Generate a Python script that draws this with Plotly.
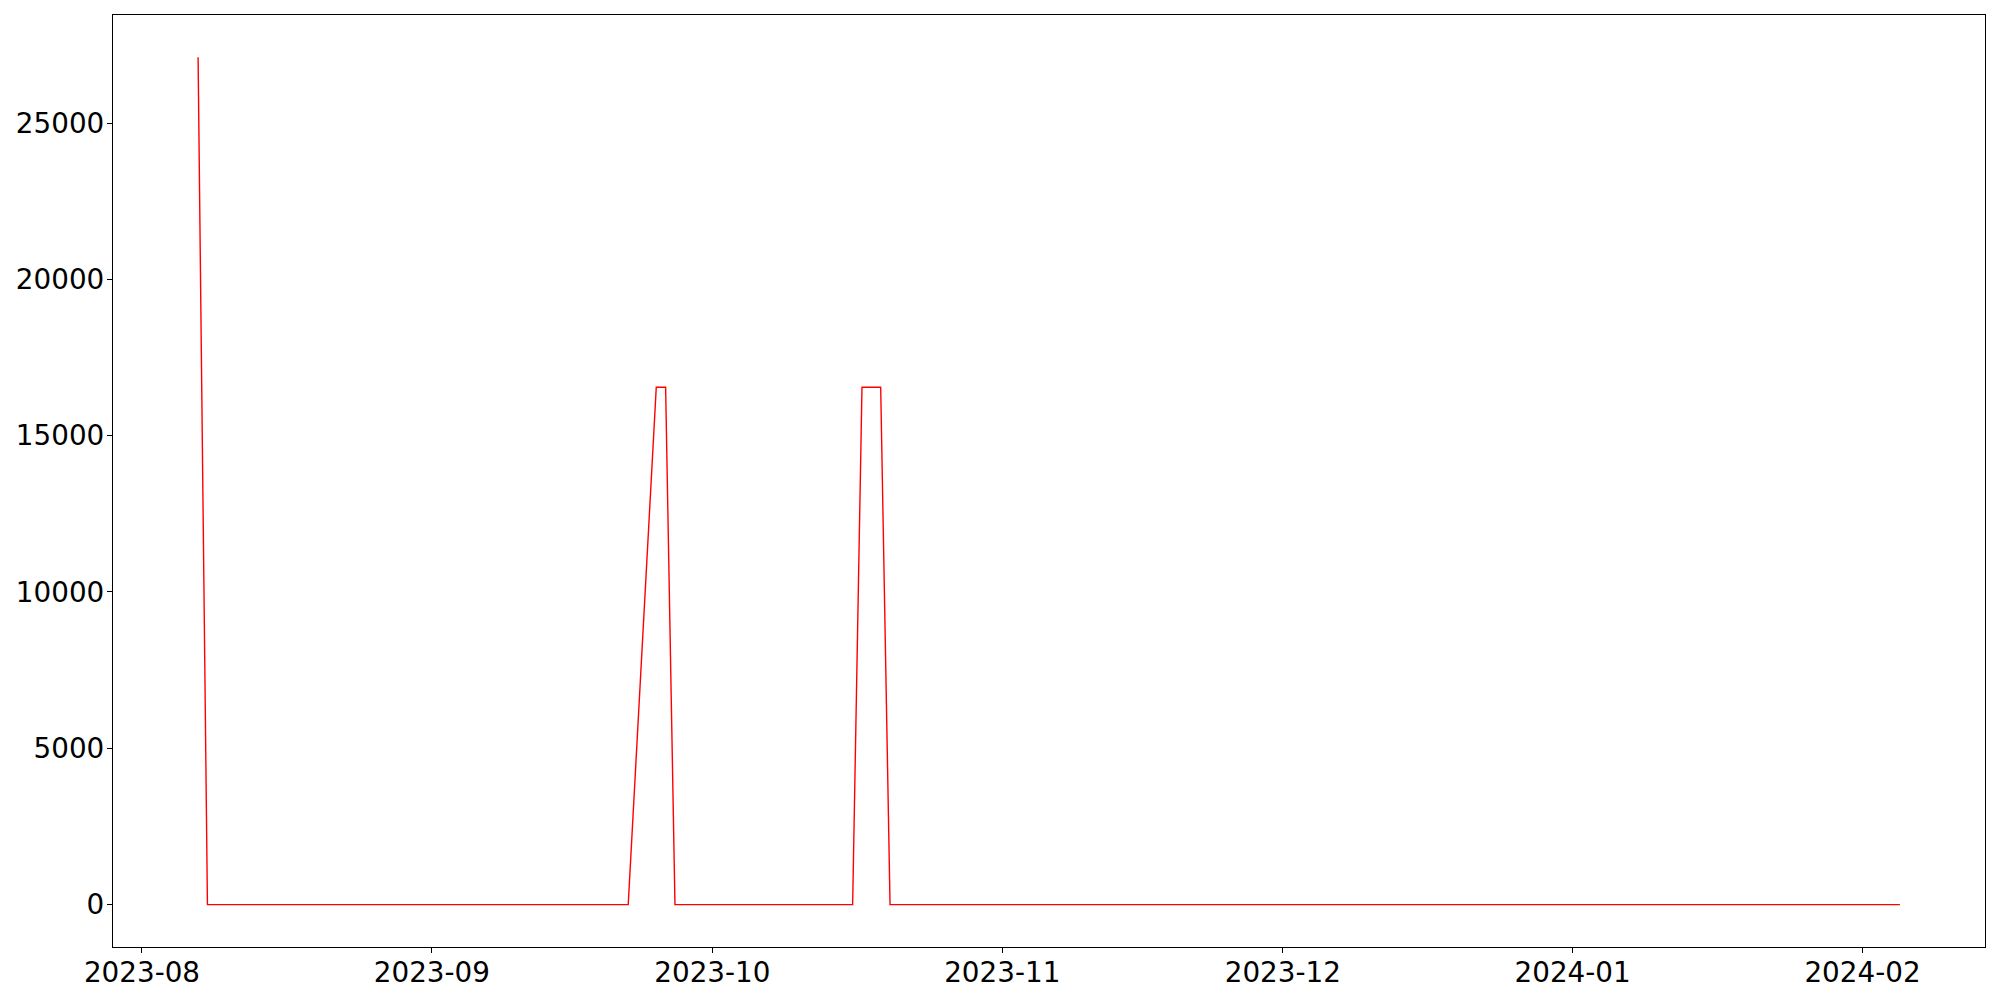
import pandas as pd
import plotly.graph_objects as go

# Business-day dates of the series (categories on the x axis)
dates = pd.bdate_range("2023-08-07", "2024-02-05")

values = [
    27100,
    0, 0, 0, 0, 0, 0, 0, 0, 0, 0, 0, 0, 0, 0, 0, 0, 0,
    0, 0, 0, 0, 0, 0, 0, 0, 0, 0, 0, 0, 0, 0, 0, 0, 0,
    16550, 16550,
    0, 0, 0, 0, 0, 0, 0, 0, 0, 0, 0, 0, 0, 0,
    16550, 16550, 16550,
    0, 0, 0, 0, 0, 0, 0, 0, 0, 0, 0, 0, 0, 0, 0, 0, 0, 0, 0, 0,
    0, 0, 0, 0, 0, 0, 0, 0, 0, 0, 0, 0, 0, 0, 0, 0, 0, 0, 0, 0,
    0, 0, 0, 0, 0, 0, 0, 0, 0, 0, 0, 0, 0, 0, 0, 0, 0, 0, 0, 0,
    0, 0, 0, 0, 0, 0, 0, 0, 0, 0, 0, 0, 0, 0, 0, 0, 0,
]

y_ticks = [0, 5000, 10000, 15000, 20000, 25000]
x_ticks = ["2023-08-01", "2023-09-01", "2023-10-01", "2023-11-01",
           "2023-12-01", "2024-01-01", "2024-02-01"]
x_tick_labels = ["2023-08", "2023-09", "2023-10", "2023-11",
                 "2023-12", "2024-01", "2024-02"]

fig = go.Figure(
    go.Scatter(x=dates, y=values, mode="lines",
               line=dict(color="red", width=1.4))
)

axis_common = dict(
    showline=True, linecolor="black", linewidth=1.3, mirror=True,
    ticks="outside", ticklen=5, tickwidth=1.2, tickcolor="black",
    showgrid=False, zeroline=False, automargin=False,
    tickfont=dict(family="DejaVu Sans", size=27.8, color="black"),
)

fig.update_layout(
    width=2000, height=1000,
    margin=dict(l=113, r=15, t=15, b=53),
    paper_bgcolor="white", plot_bgcolor="white",
    showlegend=False,
    xaxis=dict(
        range=["2023-07-28 21:36", "2024-02-14 02:24"],
        tickvals=x_ticks, ticktext=x_tick_labels,
        ticklabelstandoff=-5,
        **axis_common,
    ),
    yaxis=dict(
        range=[-1355, 28455],
        tickvals=y_ticks, ticktext=[str(v) for v in y_ticks],
        ticklabelstandoff=-3,
        **axis_common,
    ),
)

# Remove the browser's default 8px body margin so the figure fills the window.
fig.write_html(
    "out.html",
    config={"displayModeBar": False},
    post_script="document.body.style.margin='0';document.body.style.overflow='hidden';",
)
